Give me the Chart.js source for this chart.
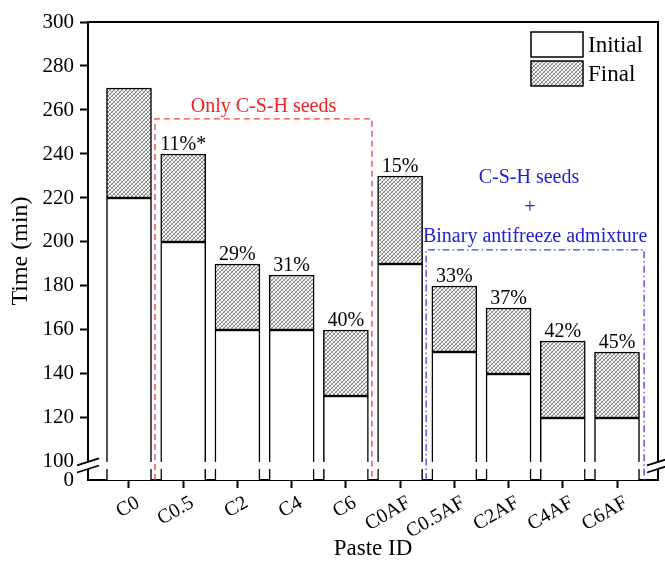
<!DOCTYPE html>
<html>
<head>
<meta charset="utf-8">
<script src="https://cdn.jsdelivr.net/npm/chart.js@4.4.0/dist/chart.umd.min.js"></script>
<style>
  html, body { margin: 0; padding: 0; background: #fff; }
  canvas { display: block; }
</style>
</head>
<body>
<canvas id="setTimeChart" width="665" height="569"></canvas>
<script>
// --- DATA ---
const pasteIds = ['C0', 'C0.5', 'C2', 'C4', 'C6', 'C0AF', 'C0.5AF', 'C2AF', 'C4AF', 'C6AF'];
const initialSet = [220, 200, 160, 160, 130, 190, 150, 140, 120, 120];
const finalSet = [270, 240, 190, 185, 160, 230, 180, 170, 155, 150];
const reductionLabels = ['', '11%*', '29%', '31%', '40%', '15%', '33%', '37%', '42%', '45%'];
const yTickValues = [0, 100, 120, 140, 160, 180, 200, 220, 240, 260, 280, 300];

// axis break: "0" sits just under the 100 tick
const Y_BOTTOM = 91.8;
const Y_BREAK_LOW = 96.8;

Chart.defaults.font.family = '"Liberation Serif", "Times New Roman", serif';
Chart.defaults.color = '#000';

// --- CROSS-HATCH FILL ---
function makeHatch() {
    const c = document.createElement('canvas');
    c.width = 4; c.height = 4;
    const g = c.getContext('2d');
    const img = g.createImageData(4, 4);
    for (let y = 0; y < 4; y++) {
        for (let x = 0; x < 4; x++) {
            let v = 250;
            if ((x + y) % 4 === 3) v = 120;
            else if ((x - y + 4) % 4 === 0) v = 185;
            const k = (y * 4 + x) * 4;
            img.data[k] = img.data[k + 1] = img.data[k + 2] = v;
            img.data[k + 3] = 255;
        }
    }
    g.putImageData(img, 0, 0);
    return g.createPattern(c, 'repeat');
}
const hatch = makeHatch();

// --- OVERLAYS: frame, axis break, group boxes, legend, labels ---
const overlayPlugin = {
    id: 'overlay',
    afterDatasetsDraw(chart) {
        const { ctx, chartArea: a, scales: { x, y } } = chart;
        ctx.save();

        // top and right frame
        ctx.strokeStyle = '#000';
        ctx.lineWidth = 2;
        ctx.beginPath();
        ctx.moveTo(a.left - 1, a.top);
        ctx.lineTo(a.right, a.top);
        ctx.lineTo(a.right, a.bottom + 1);
        ctx.stroke();

        // break band
        const yb1 = y.getPixelForValue(100);
        const yb2 = y.getPixelForValue(Y_BREAK_LOW);
        ctx.fillStyle = '#fff';
        ctx.fillRect(a.left - 4, yb1, a.right - a.left + 8, yb2 - yb1);

        // break slashes
        ctx.lineWidth = 1.8;
        [a.left, a.right].forEach(px => {
            [yb1, yb2].forEach(py => {
                ctx.beginPath();
                ctx.moveTo(px - 11, py + 3.5);
                ctx.lineTo(px + 11, py - 3.5);
                ctx.stroke();
            });
        });

        // red dashed group box
        const rL = x.getPixelForValue(0.48), rR = x.getPixelForValue(4.48), rT = y.getPixelForValue(256);
        ctx.strokeStyle = '#f03c3c';
        ctx.lineWidth = 1.3;
        ctx.setLineDash([6, 4]);
        ctx.beginPath();
        ctx.moveTo(rL, a.bottom);
        ctx.lineTo(rL, rT);
        ctx.lineTo(rR, rT);
        ctx.lineTo(rR, a.bottom);
        ctx.stroke();

        // blue dash-dot group box
        const bL = x.getPixelForValue(5.48), bR = x.getPixelForValue(9.5), bT = y.getPixelForValue(196.4);
        ctx.strokeStyle = '#3a44e0';
        ctx.setLineDash([7, 3, 1.5, 3]);
        ctx.beginPath();
        ctx.moveTo(bL, a.bottom);
        ctx.lineTo(bL, bT);
        ctx.lineTo(bR, bT);
        ctx.lineTo(bR, a.bottom);
        ctx.stroke();
        ctx.setLineDash([]);

        // group captions
        ctx.textAlign = 'center';
        ctx.textBaseline = 'alphabetic';
        ctx.font = '20px "Liberation Serif", serif';
        ctx.fillStyle = '#f02020';
        ctx.fillText('Only C-S-H seeds', (rL + rR) / 2, 112);
        ctx.fillStyle = '#2020d8';
        ctx.fillText('C-S-H seeds', 529, 183);
        ctx.fillText('+', 530, 213);
        ctx.fillText('Binary antifreeze admixture', (bL + bR) / 2, 242);

        // reduction labels above each bar
        ctx.fillStyle = '#000';
        ctx.font = '20px "Liberation Serif", serif';
        reductionLabels.forEach((t, i) => {
            if (!t) return;
            ctx.fillText(t, x.getPixelForValue(i), y.getPixelForValue(finalSet[i]) - 4);
        });

        // legend
        const sw = [
            { label: chart.data.datasets[0].label, fill: chart.data.datasets[0].backgroundColor, top: 32 },
            { label: chart.data.datasets[1].label, fill: chart.data.datasets[1].backgroundColor, top: 61 }
        ];
        ctx.textAlign = 'left';
        ctx.font = '23px "Liberation Serif", serif';
        sw.forEach(s => {
            ctx.fillStyle = s.fill;
            ctx.fillRect(531, s.top, 52, 25);
            ctx.strokeStyle = '#000';
            ctx.lineWidth = 1.5;
            ctx.strokeRect(531, s.top, 52, 25);
            ctx.fillStyle = '#000';
            ctx.fillText(s.label, 588, s.top + 20);
        });

        ctx.restore();
    }
};

// --- CHART ---
const ctx = document.getElementById('setTimeChart').getContext('2d');
new Chart(ctx, {
    type: 'bar',
    data: {
        datasets: [{
            label: 'Initial',
            data: initialSet.map((v, i) => ({ x: i, y: v })),
            backgroundColor: '#ffffff',
            borderColor: '#000',
            borderWidth: 1.5,
            borderSkipped: false,
            barThickness: 45,
            grouped: false
        }, {
            label: 'Final',
            data: finalSet.map((v, i) => ({ x: i, y: [initialSet[i], v] })),
            backgroundColor: hatch,
            borderColor: '#000',
            borderWidth: 1.5,
            borderSkipped: false,
            barThickness: 45,
            grouped: false
        }]
    },
    options: {
        responsive: false,
        animation: false,
        layout: { padding: { top: 22, right: 7, left: 0, bottom: 0 } },
        plugins: { legend: { display: false }, tooltip: { enabled: false } },
        scales: {
            x: {
                type: 'linear',
                offset: false,
                min: -0.756,
                max: 9.756,
                afterBuildTicks: s => { s.ticks = pasteIds.map((_, i) => ({ value: i })); },
                afterFit: s => { s.height = 89; },
                ticks: {
                    font: { size: 20 },
                    minRotation: 30,
                    maxRotation: 30,
                    autoSkip: false,
                    labelOffset: 9,
                    padding: 3,
                    callback: v => pasteIds[v]
                },
                grid: { offset: false, drawOnChartArea: false, tickLength: 8, tickWidth: 2, tickColor: '#000' },
                border: { color: '#000', width: 2 },
                title: { display: true, text: 'Paste ID', font: { size: 23 }, padding: { top: 0, bottom: 6 } }
            },
            y: {
                type: 'linear',
                min: Y_BOTTOM,
                max: 300,
                afterBuildTicks: s => { s.ticks = yTickValues.map(v => ({ value: v === 0 ? Y_BOTTOM : v })); },
                afterFit: s => { s.width = 88; },
                ticks: {
                    font: { size: 21 },
                    padding: 6,
                    callback: v => (v === Y_BOTTOM ? '0' : v)
                },
                grid: {
                    drawOnChartArea: false,
                    tickLength: 8,
                    tickWidth: 2,
                    tickColor: c => (c.tick && c.tick.value > 100 ? '#000' : 'rgba(0,0,0,0)')
                },
                border: { color: '#000', width: 2 },
                title: { display: true, text: 'Time (min)', font: { size: 24 }, padding: { top: 6, bottom: 0 } }
            }
        }
    },
    plugins: [overlayPlugin]
});
</script>
</body>
</html>
